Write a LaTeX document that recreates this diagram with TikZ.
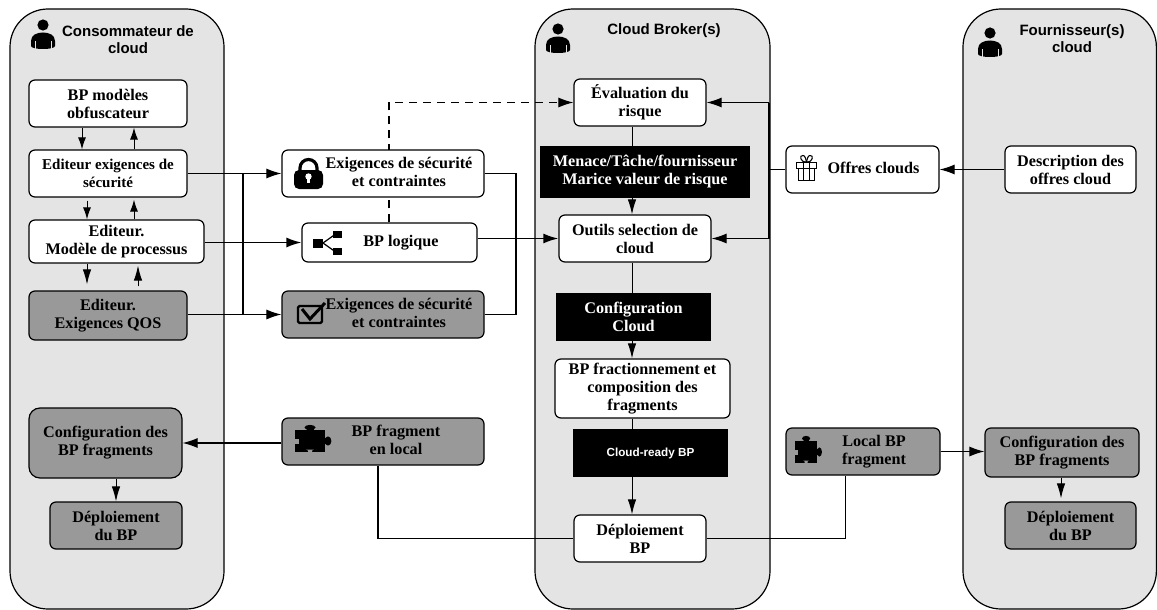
\documentclass[tikz,border=0pt]{standalone}
\usepackage{fontspec}
\setmainfont{Liberation Serif}
\setsansfont{Liberation Sans}
\usetikzlibrary{arrows.meta}
\definecolor{lanegray}{HTML}{E4E4E4}
\definecolor{boxgray}{HTML}{999999}
\pgfdeclarelayer{bg}\pgfdeclarelayer{mid}\pgfsetlayers{bg,mid,main}
\newcommand{\offtext}[2]{\hspace*{#1}\begin{tabular}{@{}c@{}}#2\end{tabular}}
\newcommand{\personicon}[2]{% head centre x, head centre y
  \begin{scope}[shift={(#1,#2)}]
    \fill[black] (0,0) circle (5.6);
    \fill[black] (-12,21) -- (-12,16) .. controls (-12,10) and (-6,7.5) .. (0,7.5) .. controls (6,7.5) and (12,10) .. (12,16) -- (12,21) .. controls (12,25) and (-12,25) .. (-12,21) -- cycle;
    \draw[lanegray,line width=0.7pt] (-8,16.5) -- (-8,24) (8,16.5) -- (8,24);
  \end{scope}}
\newcommand{\puzzleicon}[4]{% left, top, x scale, notch colour
  \begin{scope}[shift={(#1,#2)},xscale=#3]
    \fill[black] (0,0) rectangle (30,22);
    \fill[black] (15,-2.5) ellipse (5.5 and 2.6);
    \fill[black] (11.5,-2) rectangle (18.5,1);
    \fill[black] (33,11) ellipse (3.4 and 4.6);
    \fill[black] (29,8) rectangle (33,14);
    \fill[#4] (-0.5,8.5) rectangle (4,13.5);
    \fill[#4] (11,19.5) -- (19,19.5) -- (17,20.5) -- (17,22.5) -- (13,22.5) -- (13,20.5) -- cycle;
  \end{scope}}
\tikzset{
  x=1pt,y=-1pt,
  lane/.style={draw=black,fill=lanegray,line width=1.2pt,rounded corners=38pt},
  nodefont/.style={font=\fontsize{16.2}{18}\selectfont\bfseries,align=center,inner sep=0pt},
  wbox/.style={nodefont,draw=black,fill=white,line width=1.2pt,rounded corners=6pt},
  gbox/.style={nodefont,draw=black,fill=boxgray,line width=1.2pt,rounded corners=6pt},
  kbox/.style={nodefont,fill=black,text=white},
  lanetitle/.style={font=\sffamily\fontsize{15}{17}\selectfont\bfseries,align=center,inner sep=0pt},
  arr/.style={line width=1.1pt,-{Latex[length=15pt,width=10pt]}},
  arrt/.style={line width=1pt,-{Latex[length=15pt,width=8.5pt]}},
  arrs/.style={line width=1pt,-{Latex[length=12pt,width=8pt]}},
  conn/.style={line width=1.1pt},
  thick conn/.style={line width=1.8pt},
}
\begin{document}
\begin{tikzpicture}
\useasboundingbox (0,0) rectangle (1157,610);
\begin{pgfonlayer}{bg}
  \fill[white] (0,0) rectangle (1157,610);
  \draw[lane] (10,9) rectangle (224,609);
  \draw[lane] (535,9) rectangle (770,609);
  \draw[lane] (963,9) rectangle (1156.4,609);
\end{pgfonlayer}

% lane titles
\node[lanetitle] (t1) at (128,40) {Consommateur de\\cloud};
\node[lanetitle] (t2) at (664,31) {Cloud Broker(s)};
\node[lanetitle] (t3) at (1072,39) {Fournisseur(s)\\cloud};

% consumer lane
\node[wbox,minimum width=158,minimum height=47] (bpm) at (108,103.5) {BP modèles\\obfuscateur};
\node[wbox,minimum width=158,minimum height=47,font=\fontsize{15}{18}\selectfont\bfseries] (eds) at (108,173.5) {Editeur exigences de\\sécurité};
\node[wbox,minimum width=175,minimum height=43] (edm) at (116.5,241.5) {Editeur.\\Modèle de processus};
\node[gbox,minimum width=158,minimum height=49] (qos) at (108,315.5) {Editeur.\\Exigences QOS};
\node[gbox,minimum width=153,minimum height=70,rounded corners=11pt] (cfl) at (105.5,443) {Configuration des\\BP fragments};
\node[gbox,minimum width=132,minimum height=47] (dpl) at (116,525.5) {Déploiement\\du BP};

% middle column
\node[wbox,minimum width=202,minimum height=47] (ex1) at (383,173.5) {\offtext{32pt}{Exigences de sécurité\\et contraintes}};
\node[wbox,minimum width=175,minimum height=39] (lg) at (389.5,242.5) {\offtext{23pt}{BP logique}};
\node[gbox,minimum width=202,minimum height=47] (ex3) at (383,314.5) {\offtext{32pt}{Exigences de sécurité\\et contraintes}};
\node[gbox,minimum width=202,minimum height=47] (frg) at (383,441.5) {\offtext{26pt}{BP fragment\\en local}};

% broker lane
\node[wbox,minimum width=132,minimum height=47] (ev) at (640,102.5) {Évaluation du\\risque};
\node[kbox,minimum width=210,minimum height=52] (mn) at (645,172) {Menace/Tâche/fournisseur\\Marice valeur de risque};
\node[wbox,minimum width=152,minimum height=47] (ou) at (635,238.5) {Outils selection de\\cloud};
\node[kbox,minimum width=155,minimum height=48] (cc) at (633.5,317) {Configuration\\Cloud};
\node[wbox,minimum width=175,minimum height=59] (fr) at (642.5,388.5) {BP fractionnement et\\composition des\\fragments};
\node[kbox,minimum width=155,minimum height=48,font=\sffamily\fontsize{11.7}{14}\selectfont\bfseries] (cr) at (650.5,453) {Cloud-ready BP};
\node[wbox,minimum width=132,minimum height=47] (dp) at (640,538.5) {Déploiement\\BP};

% offers and provider lane
\node[wbox,minimum width=153,minimum height=47] (of) at (862.5,169.5) {\offtext{22pt}{Offres clouds}};
\node[wbox,minimum width=131,minimum height=47] (ds) at (1070.5,169.5) {Description des\\offres cloud};
\node[gbox,minimum width=154,minimum height=47] (lo) at (863,451.5) {\offtext{22pt}{Local BP\\fragment}};
\node[gbox,minimum width=154,minimum height=49] (cfr) at (1062,452.5) {Configuration des\\BP fragments};
\node[gbox,minimum width=131,minimum height=47] (dpr) at (1070.5,525.5) {Déploiement\\du BP};

% routing columns
\coordinate (xa) at (82,0);   \coordinate (xb) at (134,0);
\coordinate (xc) at (87,0);   \coordinate (xd) at (138,0);
\coordinate (xj) at (243,0);  \coordinate (xr) at (516,0);
\coordinate (xdash) at (389,0); \coordinate (xm) at (632,0);
\coordinate (xbus) at (769,0);  \coordinate (xg) at (116,0);
\coordinate (xgr) at (1061,0);  \coordinate (xfl) at (378,0);
\coordinate (xlo) at (845.5,0);

\begin{pgfonlayer}{mid}
  \draw[arrs] (bpm.south -| xa) -- (eds.north -| xa);
  \draw[arrs] (eds.north -| xb) -- (bpm.south -| xb);
  \draw[arrs,shorten <=3pt] (eds.south -| xc) -- (edm.north -| xc);
  \draw[arrs,shorten >=2pt] (edm.north -| xb) -- (eds.south -| xb);
  \draw[arrt,shorten >=6pt] (edm.south -| xc) -- (qos.north -| xc);
  \draw[arrt,shorten <=4pt,shorten >=2pt] (qos.north -| xd) -- (edm.south -| xd);
  \draw[arr] (eds.east) -- (ex1.west);
  \draw[arr] (qos.east |- ex3.west) -- (ex3.west);
  \draw[conn] (xj |- ex1.west) -- (xj |- ex3.west);
  \draw[arr,line width=1.5pt] (edm.east |- lg.west) -- (lg.west);
  \draw[conn] (ex1.east) -- (xr |- ex1.east) -- (xr |- ex3.east) -- (ex3.east);
  \draw[conn] (lg.east |- ou.west) -- (xr |- ou.west);
  \draw[arr,line width=1.8pt] (xr |- ou.west) -- (ou.west);
  \draw[arr,dash pattern=on 8pt off 6pt] (lg.north -| xdash) -- (xdash |- ev.west) -- (ev.west);
  \draw[arrt] (ev.south -| xm) -- (ou.north -| xm);
  \draw[arrt] (ou.south -| xm) -- (fr.north -| xm);
  \draw[arrt] (fr.south -| xm) -- (dp.north -| xm);
  \draw[thick conn] (of.west) -- (of.west -| xbus);
  \draw[thick conn] (xbus |- ev.east) -- (xbus |- ou.east);
  \draw[arr] (xbus |- ev.east) -- (ev.east);
  \draw[arr] (xbus |- ou.east) -- (ou.east);
  \draw[arr] (ds.west) -- (of.east);
  \draw[arr] (lo.east) -- (cfr.west |- lo.east);
  \draw[arrt,shorten >=3pt] (cfr.south -| xgr) -- (dpr.north -| xgr);
  \draw[arrt] (cfl.south -| xg) -- (dpl.north -| xg);
  \draw[arr] (frg.west |- cfl.east) -- (cfl.east);
  \draw[conn] (frg.south -| xfl) -- (xfl |- dp.west) -- (dp.west);
  \draw[conn] (dp.east) -- (xlo |- dp.east) -- (lo.south -| xlo);
\end{pgfonlayer}

% icons
\personicon{43}{25}
\personicon{558}{29}
\personicon{990}{33}
% lock
\begin{scope}
  \draw[black,line width=3.2pt] (300,172) -- (300,168) arc[start angle=180,end angle=360,radius=8.5] -- (317,172);
  \fill[black,rounded corners=5pt] (294,170) rectangle (323,189);
  \fill[white] (308.5,176.5) circle (3.2);
  \fill[white] (307,177) rectangle (310,183);
\end{scope}
% share
\draw[black,line width=1.2pt] (323,243) -- (335,234.5) (323,243) -- (335,251.5);
\fill[black] (313,238.5) rectangle (323,247.5);
\fill[black] (333,231) rectangle (342,238);
\fill[black] (333,248) rectangle (342,255);
% check box
\draw[black,line width=2.2pt,rounded corners=1.5pt] (298,306) rectangle (322,323);
\draw[black,line width=3pt] (302,309) -- (310,319) -- (325,303);
% puzzles
\puzzleicon{295}{430}{1}{boxgray}
\puzzleicon{795}{441}{0.74}{boxgray}
% gift
\begin{scope}[line width=1.1pt,draw=black]
  \draw (796.5,162.5) rectangle (816.5,168.5);
  \draw (798.5,168.5) rectangle (814.5,180.5);
  \draw (803.5,162.5) -- (803.5,180.5) (809.5,162.5) -- (809.5,180.5);
  \draw (806.5,162.5) .. controls (800,162) and (799,155) .. (803,155.5) .. controls (805,155.5) and (806,159) .. (806.5,162.5);
  \draw (806.5,162.5) .. controls (813,162) and (814,155) .. (810,155.5) .. controls (808,155.5) and (807,159) .. (806.5,162.5);
\end{scope}
\end{tikzpicture}
\end{document}
